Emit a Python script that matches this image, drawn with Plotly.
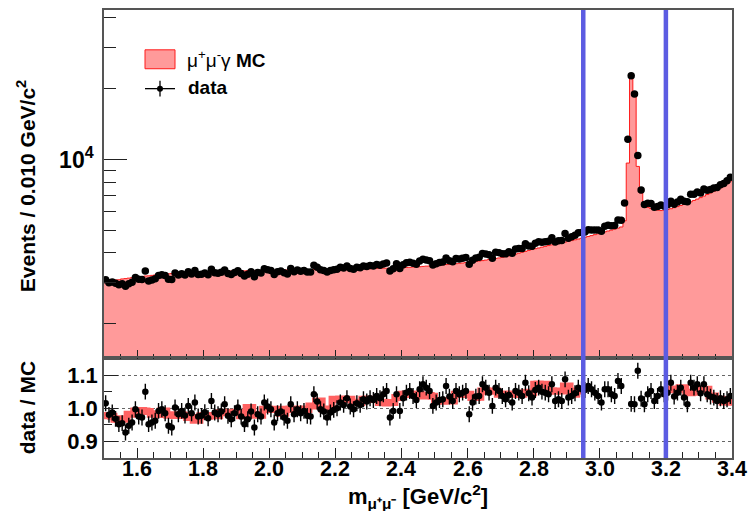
import plotly.graph_objects as go

# ---------------- binning ----------------
bin_low = 1.50
bin_width = 0.010
n_bins = 190
edges = [round(bin_low + bin_width * k, 4) for k in range(n_bins + 1)]
centers = [round(bin_low + bin_width * (k + 0.5), 4) for k in range(n_bins)]

# ---------------- MC (mu+ mu- gamma) counts per 0.010 GeV/c^2 bin ----------------
mc_counts = [
    3030, 3045, 3050, 3070, 3075, 3100, 3110, 3125, 3140, 3150,
    3170, 3175, 3190, 3195, 3210, 3225, 3230, 3240, 3255, 3260,
    3270, 3280, 3280, 3290, 3295, 3300, 3305, 3310, 3320, 3320,
    3325, 3330, 3335, 3335, 3340, 3340, 3345, 3345, 3350, 3350,
    3350, 3355, 3355, 3360, 3360, 3360, 3365, 3370, 3370, 3375,
    3375, 3380, 3380, 3385, 3385, 3385, 3390, 3390, 3395, 3395,
    3395, 3400, 3400, 3405, 3405, 3405, 3405, 3410, 3410, 3410,
    3410, 3415, 3415, 3420, 3420, 3420, 3425, 3425, 3430, 3430,
    3430, 3435, 3440, 3440, 3445, 3445, 3450, 3455, 3455, 3460,
    3460, 3470, 3475, 3485, 3490, 3495, 3505, 3515, 3520, 3530,
    3540, 3550, 3560, 3570, 3580, 3590, 3600, 3615, 3625, 3640,
    3650, 3665, 3680, 3695, 3710, 3730, 3750, 3770, 3790, 3810,
    3830, 3860, 3890, 3920, 3955, 3990, 4025, 4060, 4100, 4135,
    4170, 4200, 4235, 4265, 4300, 4330, 4360, 4390, 4420, 4450,
    4480, 4515, 4550, 4585, 4620, 4660, 4700, 4740, 4785, 4825,
    4870, 4915, 4960, 5005, 5050, 5100, 5160, 5480, 9650, 22400,
    18750, 9340, 7200, 6350, 6250, 6180, 6120, 6080, 6060, 6070,
    6120, 6170, 6230, 6300, 6370, 6440, 6520, 6600, 6690, 6780,
    6880, 6980, 7090, 7200, 7320, 7440, 7570, 7720, 7900, 8100,
]

# ---------------- data / MC ratio per bin ----------------
ratio = [
    1.015, 0.980, 0.987, 0.968, 0.952, 0.955, 0.927, 0.947, 0.957, 0.997,
    0.975, 0.972, 1.050, 0.952, 0.957, 0.962, 0.992, 0.997, 0.985, 0.947,
    0.942, 1.002, 0.982, 0.992, 0.978, 1.007, 0.985, 1.017, 0.975, 0.977,
    0.988, 0.970, 1.022, 0.987, 0.982, 0.990, 1.012, 0.977, 0.967, 0.985,
    1.002, 0.975, 0.952, 0.967, 0.990, 0.942, 0.982, 0.975, 1.017, 1.005,
    0.997, 0.957, 0.985, 0.990, 0.972, 0.962, 1.012, 0.982, 0.997, 0.985,
    0.992, 0.977, 0.975, 1.042, 1.020, 0.997, 0.990, 0.972, 0.987, 0.995,
    1.000, 1.017, 1.010, 1.030, 1.005, 0.997, 1.015, 1.010, 1.027, 1.020,
    1.030, 1.025, 1.037, 1.030, 1.042, 1.052, 0.972, 0.992, 1.042, 0.992,
    1.030, 1.047, 1.052, 1.037, 1.025, 1.057, 1.072, 1.062, 1.052, 1.007,
    1.017, 1.025, 1.027, 1.067, 1.035, 1.022, 1.052, 1.042, 1.047, 1.052,
    0.982, 1.017, 1.035, 1.037, 1.072, 1.062, 1.047, 1.007, 1.062, 1.052,
    1.037, 1.027, 1.040, 1.017, 1.052, 1.047, 1.037, 1.077, 1.045, 1.032,
    1.055, 1.062, 1.050, 1.047, 1.042, 1.072, 1.022, 1.027, 1.022, 1.087,
    1.032, 1.037, 1.045, 1.062, 1.057, 1.055, 1.067, 1.057, 1.047, 1.037,
    1.017, 1.057, 1.057, 1.042, 1.037, 1.082, 1.067, 1.190, 1.263, 1.013,
    1.012, 1.113, 1.029, 1.012, 1.042, 1.052, 1.022, 1.037, 1.057, 1.042,
    1.047, 1.077, 1.035, 1.047, 1.062, 1.032, 1.012, 1.077, 1.062, 1.072,
    1.045, 1.072, 1.042, 1.035, 1.032, 1.022, 1.030, 1.022, 1.027, 1.037,
]
ratio_err = 0.024

# ---------------- reference ratio band (not shown inside the J/psi window) ----------------
band = [
    0.977, 0.978, 0.976, 0.967, 0.966, 0.968, 0.967, 0.982, 0.982, 0.992,
    0.991, 0.993, 0.992, 0.990, 0.982, 0.983, 0.981, 0.992, 0.992, 0.979,
    0.980, 0.978, 0.979, 0.980, 0.978, 0.972, 0.972, 0.964, 0.964, 0.977,
    0.978, 0.976, 0.977, 0.978, 0.977, 0.987, 0.988, 0.986, 0.987, 0.988,
    0.987, 0.977, 0.977, 1.002, 1.002, 0.979, 0.980, 0.979, 0.997, 0.998,
    0.996, 0.997, 0.997, 0.985, 0.985, 0.997, 0.998, 0.996, 0.997, 0.998,
    0.997, 0.996, 1.007, 1.007, 1.022, 1.022, 0.997, 0.997, 0.998, 1.027,
    1.026, 1.028, 1.027, 1.026, 1.027, 1.017, 1.018, 1.017, 1.027, 1.028,
    1.026, 1.027, 1.027, 1.017, 1.018, 1.016, 1.017, 1.017, 1.032, 1.032,
    1.042, 1.043, 1.041, 1.042, 1.043, 1.042, 1.037, 1.037, 1.038, 1.036,
    1.022, 1.023, 1.021, 1.022, 1.023, 1.022, 1.042, 1.043, 1.041, 1.042,
    1.042, 1.032, 1.032, 1.033, 1.052, 1.053, 1.051, 1.052, 1.052, 1.042,
    1.043, 1.041, 1.042, 1.043, 1.042, 1.041, 1.042, 1.047, 1.048, 1.047,
    1.072, 1.073, 1.071, 1.072, 1.052, 1.053, 1.051, 1.052, 1.052, 1.067,
    1.067, 1.042, 1.042, 1.052, 1.052, None, None, None, None, None,
    None, None, None, None, None, None, None, None, None, None,
    None, None, None, None, None, None, None, None, None, None,
    1.057, 1.058, 1.056, 1.057, 1.062, 1.062, 1.047, 1.047, 1.048, 1.057,
    1.058, 1.056, 1.057, 1.037, 1.037, 1.027, 1.027, 1.019, 1.020, 1.018,
]

# signal window boundaries (GeV/c^2)
window_edges = [2.95, 3.20]

# x-axis tick labels
x_tick_vals = [1.6, 1.8, 2.0, 2.2, 2.4, 2.6, 2.8, 3.0, 3.2, 3.4]
x_tick_text = ["1.6", "1.8", "2.0", "2.2", "2.4", "2.6", "2.8", "3.0", "3.2", "3.4"]
ratio_tick_vals = [0.9, 1.0, 1.1]
ratio_tick_text = ["0.9", "1.0", "1.1"]

# derived data counts
data_counts = [m * r for m, r in zip(mc_counts, ratio)]

# ---------------- styling ----------------
FONT = "Liberation Sans, Arial, Helvetica, sans-serif"
PINK = "#ff9a9a"
RED = "#ff1a1a"
BAND = "#ff6262"
BLUE = "rgb(92,92,226)"
AX = "#555555"

fig = go.Figure()

# MC histogram (filled step)
fig.add_trace(go.Scatter(
    x=edges, y=mc_counts + [mc_counts[-1]],
    mode="lines", line=dict(shape="hv", color=RED, width=1),
    fill="tozeroy", fillcolor=PINK,
    xaxis="x", yaxis="y", showlegend=False, hoverinfo="skip"))

# data points
fig.add_trace(go.Scatter(
    x=centers, y=data_counts, mode="markers",
    marker=dict(color="black", size=7.5),
    xaxis="x", yaxis="y", showlegend=False))

# ratio band as thick step segments
bx, by = [], []
i = 0
while i < n_bins:
    if band[i] is None:
        i += 1
        continue
    j = i
    while j < n_bins and band[j] is not None:
        bx.append(edges[j]); by.append(band[j])
        j += 1
    bx.append(edges[j]); by.append(band[j - 1])
    bx.append(None); by.append(None)
    i = j
fig.add_trace(go.Scatter(
    x=bx, y=by, mode="lines", line=dict(shape="hv", color=BAND, width=7),
    connectgaps=False, xaxis="x2", yaxis="y2", showlegend=False, hoverinfo="skip"))

# ratio points
fig.add_trace(go.Scatter(
    x=centers, y=ratio, mode="markers",
    marker=dict(color="black", size=6.5),
    error_y=dict(type="constant", value=ratio_err, color="black", thickness=1.4, width=0),
    xaxis="x2", yaxis="y2", showlegend=False))

split = 0.2222

common_x = dict(range=[edges[0], edges[-1]], showline=True, linecolor=AX, linewidth=1.5,
                mirror=True, showgrid=False, zeroline=False, ticks="inside",
                tickcolor="#222", tickwidth=1.2)

fig.update_layout(
    width=752, height=511,
    margin=dict(l=104, r=20, t=8, b=53),
    paper_bgcolor="white", plot_bgcolor="white",
    font=dict(family=FONT, color="black"),
    xaxis=dict(**common_x, domain=[0, 1], anchor="y", showticklabels=False,
               tickvals=x_tick_vals, ticklen=9,
               minor=dict(ticks="inside", dtick=0.05, tick0=1.5, ticklen=5, tickcolor="#222")),
    yaxis=dict(type="log", domain=[split, 1], range=[3.153, 4.636], anchor="x",
               showline=True, linecolor=AX, linewidth=1.5, mirror=True,
               showgrid=False, zeroline=False, ticks="inside", ticklen=23,
               tickcolor="#222", tickwidth=1.2,
               tickvals=[10000], ticktext=["10<sup>4</sup>"],
               ticklabelstandoff=4,
               tickfont=dict(size=23, family=FONT, weight="bold"),
               minor=dict(ticks="inside", ticklen=12, tickcolor="#222",
                          tickvals=[2000, 3000, 4000, 5000, 6000, 7000, 8000, 9000,
                                    20000, 30000, 40000])),
    xaxis2=dict(**common_x, domain=[0, 1], anchor="y2",
                tickvals=x_tick_vals, showticklabels=False, ticklen=10,
                minor=dict(ticks="inside", dtick=0.05, tick0=1.5, ticklen=6, tickcolor="#222")),
    yaxis2=dict(domain=[0, split], range=[0.85, 1.15], anchor="x2",
                showline=True, linecolor=AX, linewidth=1.5, mirror=True, zeroline=False,
                tickvals=ratio_tick_vals, ticktext=ratio_tick_text,
                ticks="inside", ticklen=14, tickcolor="#222", tickwidth=1.2,
                tickfont=dict(size=22, family=FONT, weight="bold"),
                showgrid=True, gridcolor="#666", griddash="dot", gridwidth=1.3,
                minor=dict(ticks="inside", ticklen=8, tickcolor="#222", tickvals=[0.95, 1.05])),
)

# signal-window lines spanning both panels
for xv in window_edges:
    fig.add_shape(type="line", xref="x", yref="paper", x0=xv, x1=xv, y0=0, y1=1,
                  line=dict(color=BLUE, width=4.5), layer="above")

# ---------------- helpers for pixel-placed text ----------------
def px_x(p):
    return (p - 104) / 628.0

def px_y(p):
    return (458 - p) / 450.0

# x tick labels (placed tight under the frame as in the reference)
for tv, tt in zip(x_tick_vals, x_tick_text):
    fig.add_annotation(xref="x2", yref="paper", x=tv, y=px_y(469.5),
                       xanchor="center", yanchor="middle", showarrow=False,
                       text="<b>" + tt + "</b>", borderpad=0,
                       font=dict(size=21.5, family=FONT, color="black"))

# ---------------- manual legend ----------------
fig.add_shape(type="rect", xref="paper", yref="paper",
              x0=px_x(145), x1=px_x(175), y0=px_y(67), y1=px_y(48),
              fillcolor=PINK, line=dict(color=RED, width=1))
fig.add_annotation(xref="paper", yref="paper", x=px_x(185), y=px_y(57),
                   xanchor="left", yanchor="middle", showarrow=False,
                   text="μ<sup>+</sup>μ<sup>-</sup>γ <b>MC</b>",
                   font=dict(size=19, family=FONT, color="black"))
fig.add_shape(type="line", xref="paper", yref="paper",
              x0=px_x(145), x1=px_x(175), y0=px_y(87), y1=px_y(87),
              line=dict(color="black", width=1.3))
fig.add_shape(type="line", xref="paper", yref="paper",
              x0=px_x(160), x1=px_x(160), y0=px_y(79), y1=px_y(95),
              line=dict(color="black", width=1.3))
fig.add_shape(type="circle", xref="paper", yref="paper",
              x0=px_x(157), x1=px_x(163), y0=px_y(90), y1=px_y(84),
              fillcolor="black", line=dict(color="black", width=0))
fig.add_annotation(xref="paper", yref="paper", x=px_x(186), y=px_y(86),
                   xanchor="left", yanchor="middle", showarrow=False,
                   text="<b>data</b>", font=dict(size=19, family=FONT, color="black"))

# ---------------- axis titles ----------------
fig.add_annotation(xref="paper", yref="paper", x=px_x(26), y=px_y(185),
                   xanchor="center", yanchor="middle", showarrow=False, textangle=-90,
                   text="<b>Events / 0.010 GeV/c<sup>2</sup></b>",
                   font=dict(size=21, family=FONT, color="black"))
fig.add_annotation(xref="paper", yref="paper", x=px_x(27), y=px_y(408),
                   xanchor="center", yanchor="middle", showarrow=False, textangle=-90,
                   text="<b>data / MC</b>",
                   font=dict(size=21, family=FONT, color="black"))
fig.add_annotation(xref="paper", yref="paper", x=0.5, y=px_y(497),
                   xanchor="center", yanchor="middle", showarrow=False, borderpad=0,
                   text="<b>m<sub>μ⁺μ⁻</sub> [GeV/c<sup>2</sup>]</b>",
                   font=dict(size=22, family=FONT, color="black"))

fig.write_html("out.html")
